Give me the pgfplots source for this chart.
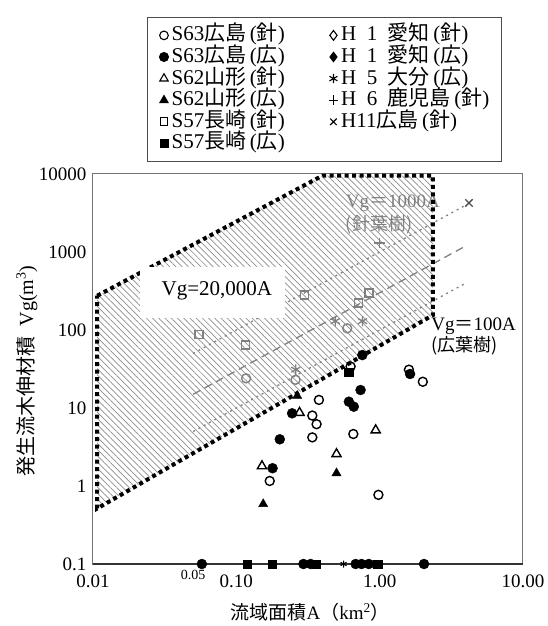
\documentclass[border=0pt]{standalone}
\usepackage{fontspec}
\setmainfont{Liberation Serif}
\newfontfamily\cjk{Noto Sans CJK JP}
\usepackage{pgfplots}
\pgfplotsset{compat=1.18}
\usetikzlibrary{patterns.meta}
\begin{document}
\begin{tikzpicture}
\useasboundingbox (-93pt,-62pt) rectangle (455pt,564pt);
\begin{axis}[
  at={(0,0)}, anchor=south west,
  scale only axis, width=430pt, height=390pt,
  xmode=log, ymode=log,
  xmin=0.01, xmax=10, ymin=0.1, ymax=10000,
  xtick={0.01,0.1,1,10}, xticklabels={0.01,0.10,1.00,10.00},
  ytick={0.1,1,10,100,1000,10000}, yticklabels={0.1,1,10,100,1000,10000},
  extra x ticks={0.05}, extra x tick labels={0.05},
  extra x tick style={tick label style={font=\fontsize{14}{14}\selectfont, yshift=4pt}},
  major tick length=0pt, minor tick length=0pt,
  /pgf/number format/assume math mode=true,
  tick label style={font=\fontsize{19}{19}\selectfont},
  xticklabel style={yshift=-7pt},
  yticklabel style={xshift=-3pt},
  axis line style={black!55, line width=1pt},
  clip=false,
  xlabel={{\cjk 流域面積}A{\cjk （}km\textsuperscript{2}{\cjk ）}},
  ylabel={{\cjk 発生流木伸材積}\ \ Vg(m\textsuperscript{3})},
  xlabel style={font=\fontsize{19}{19}\selectfont, at={(axis description cs:0.505,-0.123)}, anchor=center},
  ylabel style={font=\fontsize{20}{20}\selectfont, at={(axis description cs:-0.1535,0.495)}, anchor=center},
  legend columns=2,
  legend cell align=left,
  legend image code/.code={\draw[#1,only marks,mark options={scale=1.35}] plot coordinates {(5pt,0pt)};},
  legend style={at={(axis description cs:0.1256,1.4026)}, anchor=north west,
    draw=black!70, line width=0.8pt, fill=white,
    font=\fontsize{21}{21}\selectfont,
    inner xsep=12pt, inner ysep=8pt,
    row sep=1.6pt,
    nodes={inner sep=0pt, text height=15.5pt, text depth=4.5pt},
    /tikz/every odd column/.append style={column sep=3pt},
    /tikz/every even column/.append style={column sep=44pt}},
]
% legend images (row-wise order)
\addlegendimage{only marks, mark=o, mark size=3.2pt, line width=1.1pt, black}
\addlegendentry{S63{\cjk 広島}\,({\cjk 針})}
\addlegendimage{only marks, mark=diamond, mark size=3.6pt, line width=1.1pt, black}
\addlegendentry{H\enspace 1\enspace{\cjk 愛知}\,({\cjk 針})}
\addlegendimage{only marks, mark=*, mark size=3.4pt, black}
\addlegendentry{S63{\cjk 広島}\,({\cjk 広})}
\addlegendimage{only marks, mark=diamond*, mark size=3.6pt, black}
\addlegendentry{H\enspace 1\enspace{\cjk 愛知}\,({\cjk 広})}
\addlegendimage{only marks, mark=triangle, mark size=3.6pt, line width=1.1pt, black}
\addlegendentry{S62{\cjk 山形}\,({\cjk 針})}
\addlegendimage{only marks, mark=asterisk, mark size=3.4pt, line width=1.1pt, black}
\addlegendentry{H\enspace 5\enspace{\cjk 大分}\,({\cjk 広})}
\addlegendimage{only marks, mark=triangle*, mark size=3.6pt, black}
\addlegendentry{S62{\cjk 山形}\,({\cjk 広})}
\addlegendimage{only marks, mark=+, mark size=3.5pt, line width=1.1pt, black}
\addlegendentry{H\enspace 6\enspace{\cjk 鹿児島}\,({\cjk 針})}
\addlegendimage{only marks, mark=square, mark size=2.9pt, line width=1.1pt, black}
\addlegendentry{S57{\cjk 長崎}\,({\cjk 針})}
\addlegendimage{only marks, mark=x, mark size=3.4pt, line width=1.1pt, black}
\addlegendentry{H11{\cjk 広島}\,({\cjk 針})}
\addlegendimage{only marks, mark=square*, mark size=2.9pt, black}
\addlegendentry{S57{\cjk 長崎}\,({\cjk 広})}

% hatched region
\fill[pattern={Lines[angle=-45,distance=4.4pt,line width=0.7pt]}, pattern color=black!45]
  (axis cs:0.0107,275) -- (axis cs:0.40,9550) -- (axis cs:2.35,9550) -- (axis cs:2.35,155) -- (axis cs:0.0107,0.515) -- cycle;

% darker bottom axis line
\draw[black!80, line width=1.1pt] (axis cs:0.01,0.1) -- (axis cs:10,0.1);

% reference lines Vg = kA
\addplot[forget plot, black!50, line width=1.3pt, dash pattern=on 2pt off 4pt] coordinates {(0.05,50) (4,4000)};
\addplot[forget plot, black!50, line width=1.3pt, dash pattern=on 8pt off 5pt] coordinates {(0.05,15) (4,1200)};
\addplot[forget plot, black!50, line width=1.3pt, dash pattern=on 2pt off 4pt] coordinates {(0.05,5) (4,400)};

% line labels
\node[anchor=west, text=black!50, font=\fontsize{19}{19}\selectfont] at (axis cs:0.55,4250) {Vg{\cjk ＝}1000A};
\node[anchor=west, text=black!50, font=\fontsize{18}{18}\selectfont] at (axis cs:0.55,2220) {\cjk (針葉樹)};
\node[anchor=west, font=\fontsize{19}{19}\selectfont] at (axis cs:2.17,112) {Vg{\cjk ＝}100A};
\node[anchor=west, font=\fontsize{18}{18}\selectfont] at (axis cs:2.17,62.4) {\cjk (広葉樹)};

% ---- data: S63 Hiroshima (conifer) open circles
\addplot[forget plot, only marks, mark=o, mark size=4.5pt, line width=1.4pt, black] coordinates {
 (0.627,34) (1.6,31) (2.0,21.7) (0.377,12.7) (0.339,8.0) (0.363,6.2) (0.339,4.2) (0.655,4.64) (0.171,1.16) (0.98,0.77)};
\addplot[forget plot, only marks, mark=o, mark size=4.5pt, line width=1.4pt, black!50] coordinates {
 (0.117,24) (0.259,23) (0.594,105)};
% S63 Hiroshima (broadleaf) filled circles
\addplot[forget plot, only marks, mark=*, mark size=5pt, black] coordinates {
 (0.757,47.7) (1.63,27.3) (0.736,17) (0.61,12.05) (0.66,10.4) (0.245,8.55) (0.201,3.97) (0.179,1.69)
 (0.0575,0.1) (0.294,0.1) (0.33,0.1) (0.68,0.1) (0.748,0.1) (0.84,0.1) (2.04,0.1)};
% S62 Yamagata (conifer) open triangles
\addplot[forget plot, only marks, mark=triangle, mark size=5.3pt, line width=1.4pt, black] coordinates {
 (0.276,8.7) (0.938,5.2) (0.5,2.57) (0.151,1.8)};
% S62 Yamagata (broadleaf) filled triangles
\addplot[forget plot, only marks, mark=triangle*, mark size=5.3pt, black] coordinates {
 (0.266,14.3) (0.5,1.46) (0.154,0.587)};
% S57 Nagasaki (conifer) open squares
\addplot[forget plot, only marks, mark=square, mark size=4pt, line width=1.4pt, black!50] coordinates {
 (0.055,88) (0.116,64) (0.3,280) (0.71,222) (0.84,298)};
% S57 Nagasaki (broadleaf) filled squares
\addplot[forget plot, only marks, mark=square*, mark size=4.2pt, black] coordinates {
 (0.61,29) (0.119,0.1) (0.178,0.1) (0.36,0.1) (0.97,0.1)};
% H5 Oita (broadleaf) asterisks
\addplot[forget plot, only marks, mark=asterisk, mark size=5.2pt, line width=1.3pt, black!50] coordinates {
 (0.26,31) (0.49,130) (0.76,130)};
\addplot[forget plot, only marks, mark=asterisk, mark size=3.5pt, line width=1pt, black] coordinates {
 (0.56,0.1)};
% H6 Kagoshima (conifer) plus
\addplot[forget plot, only marks, mark=+, mark size=5.2pt, line width=1.3pt, black!50] coordinates {
 (1.0,1300)};
% H11 Hiroshima (conifer) cross
\addplot[forget plot, only marks, mark=x, mark size=5.2pt, line width=1.4pt, black!70] coordinates {
 (4.2,4250)};

% dotted boundary
\draw[black, line width=4pt, dash pattern=on 4pt off 3.5pt]
  (axis cs:0.0107,275) -- (axis cs:0.40,9550) -- (axis cs:2.35,9550) -- (axis cs:2.35,155) -- (axis cs:0.0107,0.515) -- cycle;

% white box with label
\fill[white] (axis cs:0.0213,643) rectangle (axis cs:0.22,142.6);
\node[anchor=west, font=\fontsize{21}{21}\selectfont] at (axis cs:0.0285,320) {Vg=20,000A};
\end{axis}
\end{tikzpicture}
\end{document}
